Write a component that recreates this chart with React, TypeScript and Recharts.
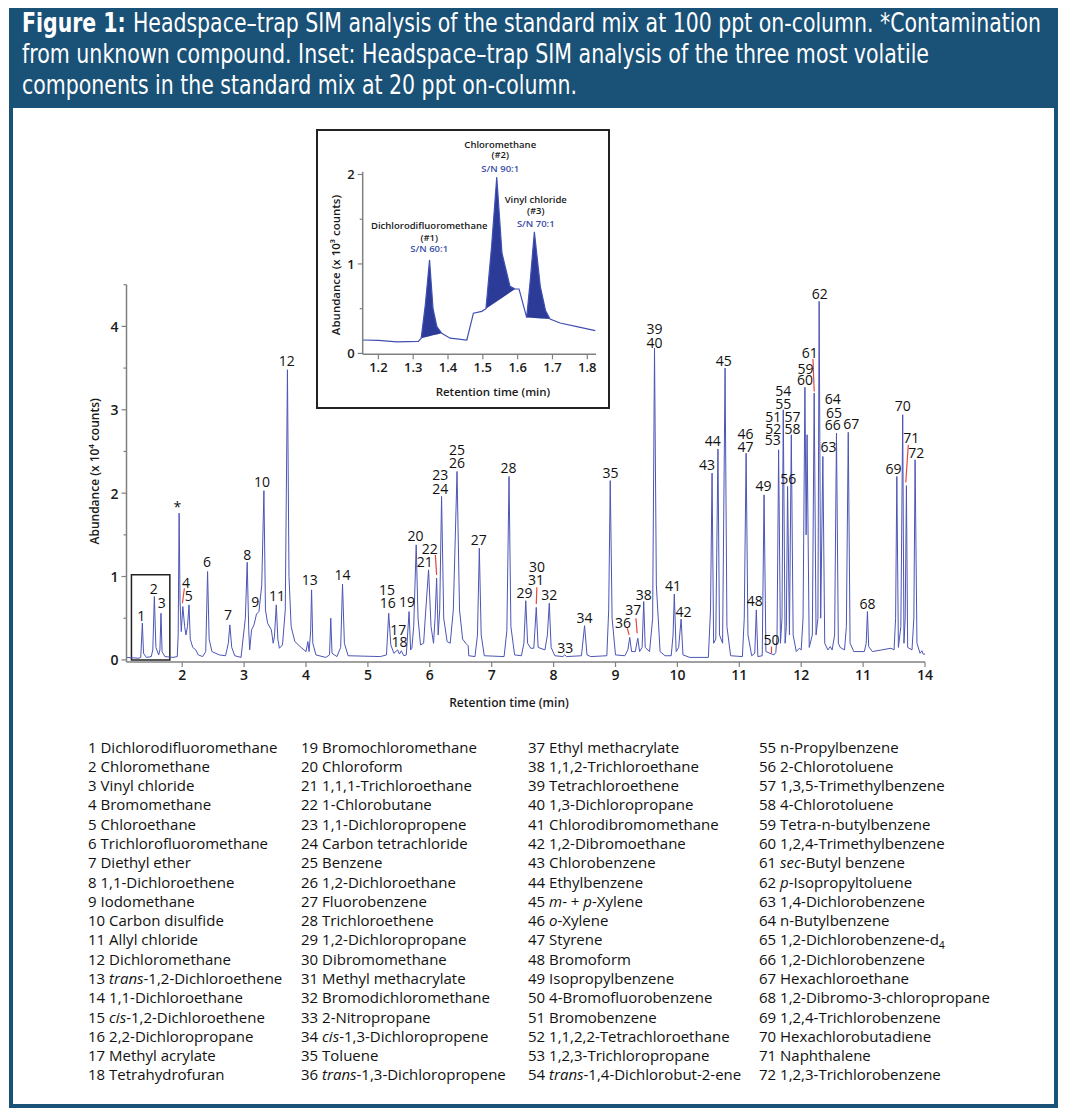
import React from "react";
import {
  LineChart,
  ComposedChart,
  Line,
  Area,
  XAxis,
  YAxis,
  ReferenceDot,
  ReferenceLine,
  ReferenceArea,
} from "recharts";

const BLUE = "#1a5177";
const GREY = "#808080";
const RED = "#e8473f";
const TRACE_COLOR = "#4c55b5";
const FONT = "'Open Sans', 'Noto Sans', sans-serif";
const HEAD_FONT = "'Liberation Sans Narrow', 'DejaVu Sans Condensed', 'DejaVu Sans', sans-serif";

const HEADER_LINES = [
  "Headspace\u2013trap SIM analysis of the standard mix at 100 ppt on-column. *Contamination",
  "from unknown compound. Inset: Headspace\u2013trap SIM analysis of the three most volatile",
  "components in the standard mix at 20 ppt on-column.",
];

// main chromatogram, [retention time (min), abundance (x 10^4 counts)]
const TRACE: [number, number][] = [
  [1.1, 0.03], [1.3, 0.02], [1.33, 0.03], [1.356, 0.44], [1.375, 0.08], [1.42, 0.03],
  [1.5, 0.04], [1.525, 0.12], [1.55, 0.76], [1.575, 0.15], [1.62, 0.06], [1.64, 0.12],
  [1.657, 0.56], [1.675, 0.1], [1.72, 0.04], [1.85, 0.03], [1.92, 0.04], [1.935, 0.3],
  [1.95, 1.76], [1.965, 0.7], [1.985, 0.34], [2.01, 0.64], [2.04, 0.4], [2.06, 0.3],
  [2.085, 0.4], [2.11, 0.66], [2.13, 0.25], [2.17, 0.15], [2.22, 0.12], [2.26, 0.06],
  [2.33, 0.04], [2.38, 0.1], [2.41, 1.06], [2.435, 0.25], [2.48, 0.1], [2.6, 0.06],
  [2.7, 0.05], [2.745, 0.2], [2.77, 0.42], [2.8, 0.15], [2.85, 0.05], [2.95, 0.03],
  [3.02, 0.5], [3.05, 1.17], [3.075, 0.35], [3.09, 0.12], [3.12, 0.36], [3.16, 0.42],
  [3.2, 0.55], [3.24, 0.58], [3.285, 0.9], [3.32, 2.03], [3.345, 0.6], [3.38, 0.44],
  [3.44, 0.36], [3.47, 0.2], [3.49, 0.28], [3.52, 0.66], [3.545, 0.25], [3.57, 0.14],
  [3.62, 0.18], [3.665, 0.6], [3.7, 3.48], [3.725, 1.0], [3.76, 0.4], [3.82, 0.22],
  [3.92, 0.15], [4.0, 0.1], [4.03, 0.22], [4.05, 0.1], [4.075, 0.35], [4.09, 0.84],
  [4.11, 0.2], [4.16, 0.06], [4.32, 0.03], [4.38, 0.06], [4.4, 0.5], [4.42, 0.08],
  [4.5, 0.04], [4.56, 0.15], [4.59, 0.91], [4.62, 0.2], [4.68, 0.05], [5.2, 0.04],
  [5.3, 0.06], [5.336, 0.56], [5.37, 0.18], [5.42, 0.08], [5.48, 0.12], [5.51, 0.07],
  [5.54, 0.11], [5.58, 0.05], [5.62, 0.06], [5.665, 0.58], [5.69, 0.12], [5.71, 0.14],
  [5.74, 0.4], [5.78, 1.38], [5.81, 0.5], [5.85, 0.18], [5.9, 0.2], [5.935, 0.6],
  [5.98, 1.08], [6.02, 0.4], [6.06, 0.2], [6.085, 0.5], [6.11, 0.98], [6.135, 0.3],
  [6.16, 0.6], [6.19, 1.96], [6.225, 0.5], [6.28, 0.22], [6.33, 0.2], [6.38, 0.6],
  [6.44, 2.26], [6.48, 0.6], [6.53, 0.25], [6.58, 0.2], [6.62, 0.17], [6.63, 0.05],
  [6.73, 0.04], [6.77, 0.3], [6.8, 1.34], [6.83, 0.3], [6.88, 0.05], [7.2, 0.04],
  [7.245, 0.35], [7.28, 2.2], [7.31, 0.4], [7.37, 0.06], [7.48, 0.05], [7.52, 0.2],
  [7.55, 0.71], [7.58, 0.2], [7.63, 0.14], [7.68, 0.14], [7.72, 0.63], [7.75, 0.15],
  [7.86, 0.12], [7.9, 0.3], [7.93, 0.68], [7.96, 0.15], [8.02, 0.05], [8.15, 0.04],
  [8.18, 0.06], [8.21, 0.04], [8.45, 0.05], [8.5, 0.41], [8.54, 0.06], [8.6, 0.04],
  [8.86, 0.05], [8.89, 0.6], [8.915, 2.15], [8.945, 0.5], [9.0, 0.06], [9.15, 0.05],
  [9.2, 0.12], [9.23, 0.27], [9.26, 0.1], [9.32, 0.1], [9.36, 0.26], [9.39, 0.1],
  [9.43, 0.15], [9.456, 0.7], [9.48, 0.15], [9.55, 0.1], [9.6, 0.5], [9.63, 3.74],
  [9.66, 0.9], [9.72, 0.1], [9.8, 0.05], [9.9, 0.05], [9.93, 0.3], [9.95, 0.79],
  [9.98, 0.1], [10.02, 0.15], [10.06, 0.49], [10.09, 0.06], [10.2, 0.03], [10.5, 0.03],
  [10.535, 0.6], [10.56, 2.24], [10.585, 0.2], [10.62, 0.25], [10.655, 2.53], [10.68, 0.3],
  [10.73, 0.2], [10.77, 3.5], [10.8, 0.4], [10.86, 0.05], [11.05, 0.04], [11.08, 0.5],
  [11.11, 2.48], [11.14, 0.3], [11.2, 0.05], [11.25, 0.08], [11.275, 0.6], [11.3, 0.04],
  [11.37, 0.05], [11.4, 1.98], [11.43, 0.1], [11.56, 0.06], [11.59, 0.09], [11.61, 0.3],
  [11.635, 2.52], [11.665, 0.2], [11.69, 0.5], [11.71, 3.0], [11.74, 0.2], [11.76, 0.4],
  [11.78, 2.08], [11.81, 0.3], [11.84, 2.7], [11.87, 0.3], [11.92, 0.1], [11.97, 0.14],
  [12.0, 0.12], [12.03, 0.5], [12.06, 3.27], [12.08, 1.5], [12.095, 2.7], [12.13, 0.15],
  [12.18, 0.3], [12.21, 3.2], [12.24, 0.3], [12.27, 0.5], [12.29, 4.3], [12.315, 0.5],
  [12.35, 2.44], [12.38, 0.2], [12.43, 0.12], [12.47, 0.16], [12.5, 0.12], [12.54, 0.3],
  [12.57, 2.72], [12.6, 0.2], [12.63, 0.15], [12.7, 0.12], [12.73, 0.4], [12.76, 2.73],
  [12.79, 0.2], [12.85, 0.1], [13.02, 0.1], [13.05, 0.2], [13.07, 0.58], [13.09, 0.16],
  [13.15, 0.1], [13.3, 0.12], [13.45, 0.14], [13.5, 0.12], [13.525, 0.5], [13.545, 2.2],
  [13.57, 0.15], [13.61, 0.4], [13.64, 2.94], [13.66, 0.2], [13.68, 0.5], [13.7, 2.09],
  [13.72, 0.15], [13.79, 0.12], [13.82, 0.5], [13.84, 2.4], [13.87, 0.2], [13.92, 0.08],
  [13.95, 0.11], [13.97, 0.07], [14.0, 0.07],
];

// peak numbers: [text, time, abundance at text centre]
const PEAK_LABELS: [string, number, number][] = [
  ["1", 1.34, 0.53], ["2", 1.54, 0.86], ["3", 1.67, 0.69], ["*", 1.92, 1.84],
  ["4", 2.06, 0.93], ["5", 2.105, 0.77], ["6", 2.4, 1.18], ["7", 2.74, 0.54],
  ["8", 3.05, 1.27], ["9", 3.18, 0.7], ["10", 3.29, 2.14], ["11", 3.53, 0.77],
  ["12", 3.69, 3.59], ["13", 4.06, 0.96], ["14", 4.59, 1.03], ["15", 5.31, 0.84],
  ["16", 5.32, 0.69], ["17", 5.49, 0.37], ["18", 5.51, 0.22], ["19", 5.63, 0.7],
  ["20", 5.77, 1.49], ["21", 5.92, 1.18], ["22", 6.0, 1.34], ["23", 6.17, 2.22],
  ["24", 6.17, 2.06], ["25", 6.44, 2.52], ["26", 6.44, 2.37], ["27", 6.79, 1.45],
  ["28", 7.27, 2.31], ["29", 7.53, 0.81], ["30", 7.73, 1.12], ["31", 7.715, 0.97],
  ["32", 7.93, 0.78], ["33", 8.19, 0.15], ["34", 8.5, 0.51], ["35", 8.92, 2.25],
  ["36", 9.12, 0.45], ["37", 9.285, 0.61], ["38", 9.455, 0.79], ["39", 9.63, 3.97],
  ["40", 9.63, 3.81], ["41", 9.93, 0.89], ["42", 10.1, 0.58], ["43", 10.48, 2.34],
  ["44", 10.57, 2.63], ["45", 10.75, 3.59], ["46", 11.1, 2.71], ["47", 11.1, 2.56],
  ["48", 11.25, 0.71], ["49", 11.39, 2.09], ["50", 11.52, 0.25], ["51", 11.55, 2.92],
  ["52", 11.55, 2.78], ["53", 11.54, 2.64], ["54", 11.71, 3.23], ["55", 11.71, 3.08],
  ["56", 11.79, 2.18], ["57", 11.86, 2.92], ["58", 11.86, 2.78], ["59", 12.07, 3.5],
  ["60", 12.06, 3.36], ["61", 12.14, 3.69], ["62", 12.3, 4.4], ["63", 12.44, 2.56],
  ["64", 12.51, 3.13], ["65", 12.53, 2.97], ["66", 12.51, 2.82], ["67", 12.81, 2.84],
  ["68", 13.07, 0.68], ["69", 13.49, 2.3], ["70", 13.64, 3.05], ["71", 13.78, 2.67],
  ["72", 13.86, 2.49],
];

// red leader lines: [t1, a1, t2, a2]
const LEADERS: [number, number, number, number][] = [
  [2.035, 0.86, 2.003, 0.68], [6.09, 1.26, 6.11, 1.02], [7.73, 0.87, 7.72, 0.67],
  [9.19, 0.38, 9.22, 0.3], [9.33, 0.5, 9.35, 0.32], [11.52, 0.16, 11.52, 0.08],
  [12.19, 3.61, 12.21, 3.22], [13.73, 2.58, 13.69, 2.13],
];

const X_TICKS = [2, 3, 4, 5, 6, 7, 8, 9, 10, 11, 12, 13, 14];
const X_TICK_LABELS = ["2", "3", "4", "5", "6", "7", "8", "9", "10", "11", "12", "11", "14"];
const Y_TICKS = [0, 0.5, 1, 1.5, 2, 2.5, 3, 3.5, 4, 4.5];

// inset, abundance in x 10^3 counts
const INSET_TRACE: [number, number][] = [
  [1.155, 0.15], [1.2, 0.145], [1.253, 0.13], [1.315, 0.135], [1.323, 0.17], [1.335, 0.55],
  [1.347, 1.045], [1.357, 0.5], [1.368, 0.3], [1.382, 0.225], [1.406, 0.17], [1.454, 0.15],
  [1.473, 0.45], [1.497, 0.47], [1.509, 0.5], [1.525, 1.19], [1.54, 1.97], [1.555, 1.12],
  [1.578, 0.75], [1.593, 0.72], [1.604, 0.72], [1.626, 0.4], [1.637, 0.85], [1.648, 1.36],
  [1.665, 0.75], [1.68, 0.48], [1.693, 0.385], [1.722, 0.34], [1.77, 0.3], [1.823, 0.255],
];
const INSET_FILLS: [number, number][] = [[1.323, 1.382], [1.509, 1.593], [1.626, 1.693]];
const INSET_LABELS: [string, number, number, boolean][] = [
  ["Dichlorodifluoromethane", 1.346, 1.425, false], ["(#1)", 1.346, 1.3, false], ["S/N 60:1", 1.346, 1.175, true],
  ["Chloromethane", 1.55, 2.34, false], ["(#2)", 1.55, 2.22, false], ["S/N 90:1", 1.55, 2.07, true],
  ["Vinyl chloride", 1.652, 1.715, false], ["(#3)", 1.652, 1.595, false], ["S/N 70:1", 1.652, 1.455, true],
];
const INSET_X_TICKS = [1.2, 1.3, 1.4, 1.5, 1.6, 1.7, 1.8];
const INSET_Y_TICKS = [0, 0.5, 1, 1.5, 2];

const COMPOUNDS = [
  "Dichlorodifluoromethane", "Chloromethane", "Vinyl chloride", "Bromomethane", "Chloroethane",
  "Trichlorofluoromethane", "Diethyl ether", "1,1-Dichloroethene", "Iodomethane", "Carbon disulfide",
  "Allyl chloride", "Dichloromethane", "*trans*-1,2-Dichloroethene", "1,1-Dichloroethane",
  "*cis*-1,2-Dichloroethene", "2,2-Dichloropropane", "Methyl acrylate", "Tetrahydrofuran",
  "Bromochloromethane", "Chloroform", "1,1,1-Trichloroethane", "1-Chlorobutane", "1,1-Dichloropropene",
  "Carbon tetrachloride", "Benzene", "1,2-Dichloroethane", "Fluorobenzene", "Trichloroethene",
  "1,2-Dichloropropane", "Dibromomethane", "Methyl methacrylate", "Bromodichloromethane",
  "2-Nitropropane", "*cis*-1,3-Dichloropropene", "Toluene", "*trans*-1,3-Dichloropropene",
  "Ethyl methacrylate", "1,1,2-Trichloroethane", "Tetrachloroethene", "1,3-Dichloropropane",
  "Chlorodibromomethane", "1,2-Dibromoethane", "Chlorobenzene", "Ethylbenzene", "*m*- + *p*-Xylene",
  "*o*-Xylene", "Styrene", "Bromoform", "Isopropylbenzene", "4-Bromofluorobenzene", "Bromobenzene",
  "1,1,2,2-Tetrachloroethane", "1,2,3-Trichloropropane", "*trans*-1,4-Dichlorobut-2-ene",
  "n-Propylbenzene", "2-Chlorotoluene", "1,3,5-Trimethylbenzene", "4-Chlorotoluene",
  "Tetra-n-butylbenzene", "1,2,4-Trimethylbenzene", "*sec*-Butyl benzene", "*p*-Isopropyltoluene",
  "1,4-Dichlorobenzene", "n-Butylbenzene", "1,2-Dichlorobenzene-d_4", "1,2-Dichlorobenzene",
  "Hexachloroethane", "1,2-Dibromo-3-chloropropane", "1,2,4-Trichlorobenzene", "Hexachlorobutadiene",
  "Naphthalene", "1,2,3-Trichlorobenzene",
];
const LEGEND_COLS = [88, 301, 528, 759];

const traceData = TRACE.map(([t, a]) => ({ t, a }));

const insetData = INSET_TRACE.map(([t, a]) => {
  const seg = INSET_FILLS.find(([s, e]) => t >= s - 1e-9 && t <= e + 1e-9);
  let band: [number, number] | null = null;
  if (seg) {
    const y0 = INSET_TRACE.find((p) => p[0] === seg[0])![1];
    const y1 = INSET_TRACE.find((p) => p[0] === seg[1])![1];
    const base = y0 + ((t - seg[0]) / (seg[1] - seg[0])) * (y1 - y0);
    band = [base, a];
  }
  return { t, a, band };
});

const tag = (text: string, size: number, color: string, weight: number) => (p: any) => (
  <text
    x={p.cx}
    y={p.cy}
    textAnchor="middle"
    dominantBaseline="central"
    fontSize={size}
    fontWeight={weight}
    fill={color}
    fontFamily={FONT}
  >
    {text}
  </text>
);

function YTick(props: any) {
  const { x, y, payload, size } = props;
  const major = Number.isInteger(payload.value);
  const ax = x + 8;
  return (
    <g>
      <line x1={ax} x2={ax - (major ? 5 : 3)} y1={y} y2={y} stroke={GREY} strokeWidth={1.2} />
      {major && (
        <text x={x} y={y} textAnchor="end" dominantBaseline="central" fontSize={size}
          fontWeight={600} fill="#1a1a1a" fontFamily={FONT}>
          {payload.value}
        </text>
      )}
    </g>
  );
}

function Name({ s }: { s: string }) {
  const parts = s.split("*");
  return (
    <>
      {parts.map((p, i) => {
        if (i % 2 === 1) return <i key={i}>{p}</i>;
        if (p.includes("_")) {
          const [a, b] = p.split("_");
          return (
            <React.Fragment key={i}>
              {a}
              <sub style={{ fontSize: "0.7em", lineHeight: 0 }}>{b}</sub>
            </React.Fragment>
          );
        }
        return <React.Fragment key={i}>{p}</React.Fragment>;
      })}
    </>
  );
}

function MainChart() {
  return (
    <div style={{ position: "absolute", left: 0, top: 0 }}>
      <LineChart width={1066} height={720} data={traceData}
        margin={{ top: 284.7, right: 141, bottom: 8, left: 66.5 }}>
        <XAxis dataKey="t" type="number" domain={[1.1, 14]} ticks={X_TICKS} interval={0}
          allowDataOverflow height={50} tickSize={5} tickMargin={3}
          tickFormatter={(v: number) => X_TICK_LABELS[X_TICKS.indexOf(v)]}
          axisLine={{ stroke: GREY, strokeWidth: 1.5 }} tickLine={{ stroke: GREY, strokeWidth: 1.2 }}
          tick={{ fill: "#1a1a1a", fontSize: 14, fontWeight: 600, fontFamily: FONT }}
          label={{
            content: (p: any) => (
              <text x={p.viewBox.x + 382.5} y={p.viewBox.y + 40} textAnchor="middle"
                dominantBaseline="central" fontSize={12} fontWeight={600} fill="#1a1a1a" fontFamily={FONT}>
                Retention time (min)
              </text>
            ),
          }}
        />
        <YAxis type="number" domain={[-0.025, 4.5]} ticks={Y_TICKS} interval={0} allowDataOverflow
          width={60} tickLine={false} tickSize={5} tickMargin={3}
          axisLine={{ stroke: GREY, strokeWidth: 1.5 }}
          tick={(p: any) => <YTick {...p} size={14} />}
          label={{
            content: (p: any) => {
              const cx = p.viewBox.x + 28.5;
              const cy = p.viewBox.y + p.viewBox.height / 2 - 2;
              return (
                <text x={cx} y={cy} transform={`rotate(-90 ${cx} ${cy})`} textAnchor="middle"
                  dominantBaseline="central" fontSize={12} fontWeight={600} fill="#1a1a1a" fontFamily={FONT}>
                  Abundance (x 10⁴ counts)
                </text>
              );
            },
          }}
        />
        <ReferenceArea x1={1.18} x2={1.8} y1={0} y2={1.02} fill="none" stroke="#222"
          strokeWidth={1.5} ifOverflow="visible" />
        <Line dataKey="a" type="linear" stroke={TRACE_COLOR} strokeWidth={1} dot={false}
          isAnimationActive={false} />
        {LEADERS.map(([t1, a1, t2, a2], i) => (
          <ReferenceLine key={`l${i}`} segment={[{ x: t1, y: a1 }, { x: t2, y: a2 }]}
            stroke={RED} strokeWidth={1.2} ifOverflow="visible" />
        ))}
        {PEAK_LABELS.map(([s, t, a], i) => (
          <ReferenceDot key={`p${i}`} x={t} y={a} r={0} ifOverflow="visible"
            shape={tag(s, 14, "#111", 500)} />
        ))}
      </LineChart>
    </div>
  );
}

function InsetChart() {
  return (
    <div style={{
      position: "absolute", left: 316, top: 129, width: 294, height: 280,
      border: "2px solid #222", boxSizing: "border-box", background: "#fff",
    }}>
      <ComposedChart width={290} height={276} data={insetData}
        margin={{ top: 40.8, right: 12, bottom: 27.7, left: 14.7 }}>
        <XAxis dataKey="t" type="number" domain={[1.155, 1.825]} ticks={INSET_X_TICKS} interval={0}
          allowDataOverflow height={25} tickSize={5} tickMargin={3}
          tickFormatter={(v: number) => v.toFixed(1)}
          axisLine={{ stroke: GREY, strokeWidth: 1.5 }} tickLine={{ stroke: GREY, strokeWidth: 1.2 }}
          tick={{ fill: "#1a1a1a", fontSize: 13, fontWeight: 600, fontFamily: FONT }}
          label={{
            content: (p: any) => (
              <text x={p.viewBox.x + p.viewBox.width / 2 + 13.6} y={p.viewBox.y + 37.4}
                textAnchor="middle" dominantBaseline="central" fontSize={11.5} fontWeight={600}
                fill="#1a1a1a" fontFamily={FONT}>
                Retention time (min)
              </text>
            ),
          }}
        />
        <YAxis type="number" domain={[-0.01, 2.03]} ticks={INSET_Y_TICKS} interval={0} allowDataOverflow
          width={30} tickLine={false} tickSize={5} tickMargin={3}
          axisLine={{ stroke: GREY, strokeWidth: 1.5 }}
          tick={(p: any) => <YTick {...p} size={13} />}
          label={{
            content: (p: any) => {
              const cx = p.viewBox.x + 2.5;
              const cy = p.viewBox.y + p.viewBox.height / 2 + 2;
              return (
                <text x={cx} y={cy} transform={`rotate(-90 ${cx} ${cy})`} textAnchor="middle"
                  dominantBaseline="central" fontSize={11.5} fontWeight={600} fill="#1a1a1a" fontFamily={FONT}>
                  Abundance (x 10³ counts)
                </text>
              );
            },
          }}
        />
        <Area dataKey="band" type="linear" stroke="none" fill="#2c3b98" fillOpacity={1}
          isAnimationActive={false} connectNulls={false} />
        <Line dataKey="a" type="linear" stroke="#4050b2" strokeWidth={1.2} dot={false}
          isAnimationActive={false} />
        {INSET_LABELS.map(([s, t, a, sn], i) => (
          <ReferenceDot key={`i${i}`} x={t} y={a} r={0} ifOverflow="visible"
            shape={tag(s, 9.5, sn ? "#3a4ea8" : "#1a1a1a", 600)} />
        ))}
      </ComposedChart>
    </div>
  );
}

function Header() {
  const baselines = [32, 63, 94];
  const lengths = [1019, 907, 555];
  return (
    <svg width={1041} height={96} style={{ position: "absolute", left: 13, top: 12, display: "block" }}>
      <rect x={0} y={0} width={1041} height={96} fill={BLUE} />
      {HEADER_LINES.map((line, i) => (
        <text key={i} x={9} y={baselines[i] - 12} textLength={lengths[i]} lengthAdjust="spacingAndGlyphs"
          fontSize={26} fill="#fff" fontFamily={HEAD_FONT}>
          {i === 0 && <tspan fontWeight={700}>Figure 1: </tspan>}
          <tspan>{line}</tspan>
        </text>
      ))}
    </svg>
  );
}

function Legend() {
  return (
    <>
      {LEGEND_COLS.map((left, c) => (
        <div key={c} style={{
          position: "absolute", left, top: 737.6, fontFamily: FONT, fontSize: 15,
          lineHeight: "19.28px", color: "#111", whiteSpace: "nowrap",
        }}>
          {COMPOUNDS.slice(c * 18, c * 18 + 18).map((name, i) => (
            <div key={i}>
              {c * 18 + i + 1} <Name s={name} />
            </div>
          ))}
        </div>
      ))}
    </>
  );
}

export default function App() {
  return (
    <div style={{ position: "absolute", left: 0, top: 0, width: 1066, height: 1114, background: "#fff" }}>
      <div style={{
        position: "absolute", left: 9, top: 8, width: 1049, height: 1100,
        border: `4px solid ${BLUE}`, boxSizing: "border-box",
      }} />
      <Header />
      <MainChart />
      <InsetChart />
      <Legend />
    </div>
  );
}
